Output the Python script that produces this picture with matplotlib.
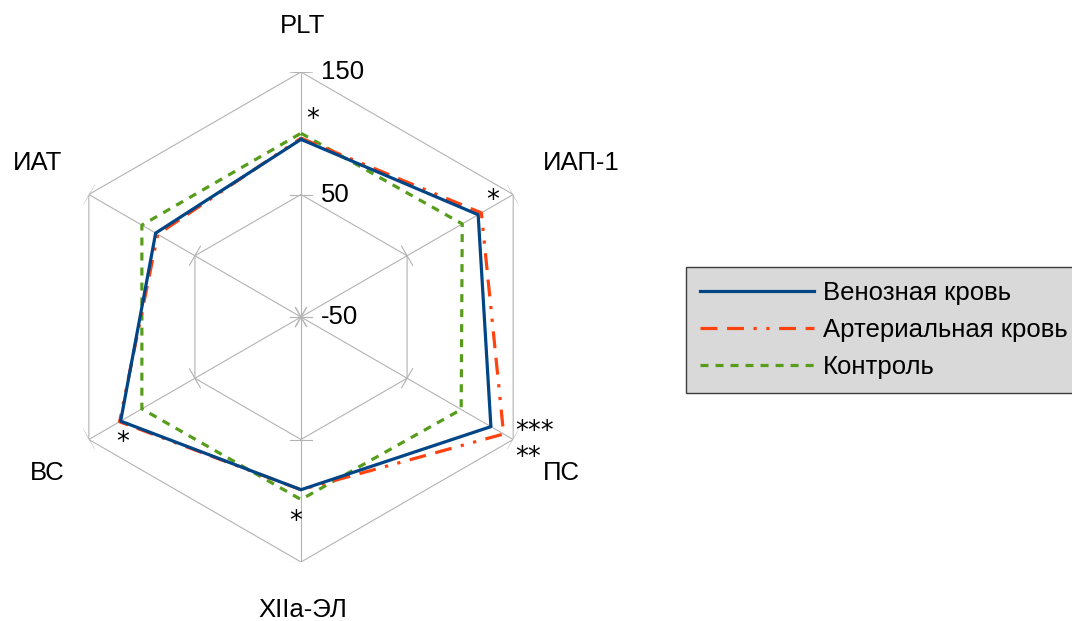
import numpy as np
import matplotlib.pyplot as plt
from matplotlib.lines import Line2D

# Data
categories = ["PLT", "ИАП-1", "ПС", "XIIa-ЭЛ", "ВС", "ИАТ"]
venous = [95, 117, 129, 91, 120, 87]
arterial = [96, 120, 141, 91, 121, 85]
control = [100, 102, 101, 99, 100, 100]
series_names = ["Венозная кровь", "Артериальная кровь", "Контроль"]
r_ticks = [-50, 50, 150]
stars = ["*", "*", "***", "*", "*", ""]
stars_extra = ["", "", "**", "", "", ""]

plt.rcParams['font.family'] = ['Liberation Sans', 'DejaVu Sans']
FS = 18.5

fig = plt.figure(figsize=(10.72, 6.21), dpi=100)
ax = fig.add_axes([56 / 1072, 59 / 621, 490 / 1072, 490 / 621], projection="polar")
ax.set_theta_zero_location("N")
ax.set_theta_direction(-1)
ax.set_ylim(-50, 150)
ax.grid(False)
ax.spines["polar"].set_visible(False)
ax.set_xticks([])
ax.set_yticks([])
ax.patch.set_visible(False)

n = len(categories)
theta = np.arange(n) * 2 * np.pi / n
theta_c = np.append(theta, theta[0])
gc = "#b3b3b3"

# hexagonal grid
for rv in r_ticks[1:]:
    ax.plot(theta_c, [rv] * (n + 1), color=gc, lw=0.8, zorder=1)
for t in theta:
    ax.plot([t, t], [-50, 150], color=gc, lw=0.8, zorder=1)
    # small ticks across each spoke
    d = 9.0
    for rv in r_ticks:
        rho = rv + 50
        rr = np.sqrt(rho ** 2 + d ** 2) - 50
        da = np.arctan2(d, rho)
        ax.plot([t - da, t + da], [rr, rr], color=gc, lw=0.8, zorder=1)

# radial tick labels
for rv in r_ticks:
    ax.annotate(str(rv), xy=(0, rv), xytext=(20, 0), textcoords="offset pixels",
                ha="left", va="center", fontsize=FS)

# series
art_dash = (5.3, 3, 5.3, 3, 1, 3, 1, 3)
ctl_dash = (2.5, 2.2)
ax.plot(theta_c, venous + venous[:1], color="#004586", lw=2.3, zorder=4)
ax.plot(theta_c, arterial + arterial[:1], color="#ff420e", lw=2.3, zorder=3,
        dashes=art_dash)
ax.plot(theta_c, control + control[:1], color="#579d1c", lw=2.3, zorder=2,
        dashes=ctl_dash)

# category labels, offset from the outer vertex
label_off = [(2, 46), (68, 31), (48, -33), (2, -48), (-42, -33), (-51, 31)]
for t, c, off in zip(theta, categories, label_off):
    ax.annotate(c, xy=(t, 150), xytext=off, textcoords="offset pixels",
                ha="center", va="center", fontsize=FS)

# significance marks
star_off = [(12, 18), (11, 12), (12, 2), (-5, -32), (3, -21), (0, 0)]
extra_off = (12, -24)
for t, s, s2, v, a, off in zip(theta, stars, stars_extra, venous, arterial, star_off):
    if s:
        ax.annotate(s, xy=(t, max(v, a)), xytext=off, textcoords="offset pixels",
                    ha="left" if s2 else "center", va="center", fontsize=FS,
                    family="DejaVu Sans")
    if s2:
        ax.annotate(s2, xy=(t, max(v, a)), xytext=extra_off, textcoords="offset pixels",
                    ha="left", va="center", fontsize=FS, family="DejaVu Sans")

handles = [
    Line2D([], [], color="#004586", lw=2.3),
    Line2D([], [], color="#ff420e", lw=2.3, dashes=art_dash),
    Line2D([], [], color="#579d1c", lw=2.3, dashes=ctl_dash),
]
leg = fig.legend(handles, series_names, loc="upper left",
                 bbox_to_anchor=(686 / 1072, 1 - 267 / 621), fontsize=FS,
                 frameon=True, fancybox=False, handlelength=4.45,
                 handletextpad=0.33, borderpad=0.55, labelspacing=0.5,
                 borderaxespad=0)
leg.get_frame().set_facecolor("#d9d9d9")
leg.get_frame().set_edgecolor("#3c3c3c")
leg.get_frame().set_linewidth(1.0)
leg.get_frame().set_alpha(1)

fig.savefig("out.png", dpi=100)
